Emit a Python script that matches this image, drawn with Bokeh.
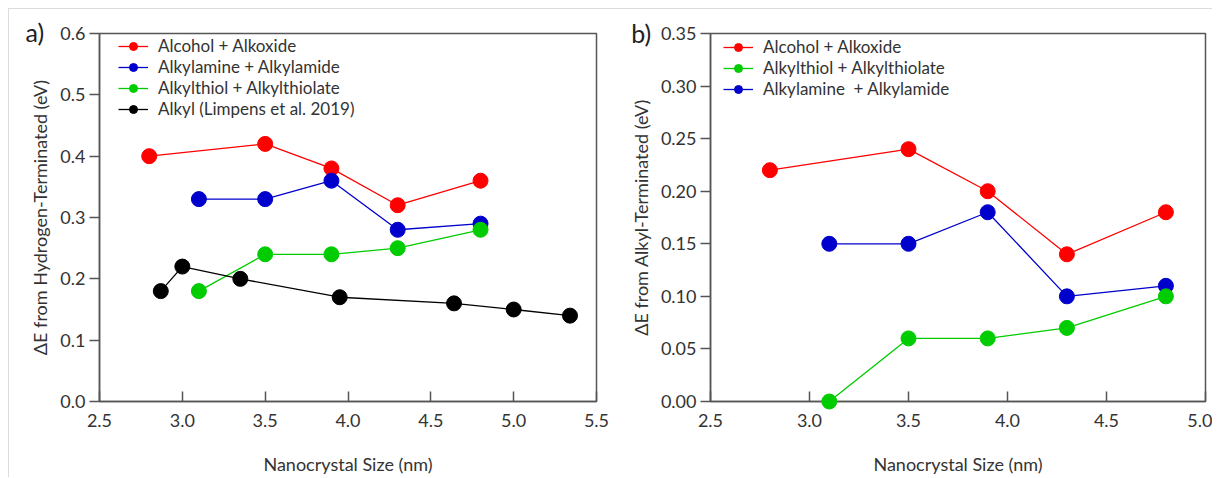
from bokeh.plotting import figure
from bokeh.layouts import row
from bokeh.models import (Range1d, FixedTicker, PrintfTickFormatter, Legend,
                          LegendItem)
from bokeh.core.properties import value
from bokeh.embed import file_html
from bokeh.resources import INLINE

# ---------------- data ----------------
# panel a
a_alcohol_x = [2.8, 3.5, 3.9, 4.3, 4.8]
a_alcohol_y = [0.40, 0.42, 0.38, 0.32, 0.36]
a_amine_x = [3.1, 3.5, 3.9, 4.3, 4.8]
a_amine_y = [0.33, 0.33, 0.36, 0.28, 0.29]
a_thiol_x = [3.1, 3.5, 3.9, 4.3, 4.8]
a_thiol_y = [0.18, 0.24, 0.24, 0.25, 0.28]
a_alkyl_x = [2.87, 3.0, 3.35, 3.95, 4.64, 5.0, 5.34]
a_alkyl_y = [0.18, 0.22, 0.20, 0.17, 0.16, 0.15, 0.14]

# panel b
b_alcohol_x = [2.8, 3.5, 3.9, 4.3, 4.8]
b_alcohol_y = [0.22, 0.24, 0.20, 0.14, 0.18]
b_thiol_x = [3.1, 3.5, 3.9, 4.3, 4.8]
b_thiol_y = [0.00, 0.06, 0.06, 0.07, 0.10]
b_amine_x = [3.1, 3.5, 3.9, 4.3, 4.8]
b_amine_y = [0.15, 0.15, 0.18, 0.10, 0.11]

a_xticks = [2.5, 3.0, 3.5, 4.0, 4.5, 5.0, 5.5]
a_yticks = [0.0, 0.1, 0.2, 0.3, 0.4, 0.5, 0.6]
b_xticks = [2.5, 3.0, 3.5, 4.0, 4.5, 5.0]
b_yticks = [0.0, 0.05, 0.10, 0.15, 0.20, 0.25, 0.30, 0.35]

panel_labels = ["a)", "b)"]

RED = "#ff0000"
BLUE = "#0000cc"
GREEN = "#00cc00"
BLACK = "#000000"

FONT = "Lato"
AXC = "#555555"
TXT = "#333333"

FIG_H = 468
TOP = 24
FRAME_H = 372


def make_fig(width, xr, yr, xticks, yticks, yfmt, ylabel, left_border, right_border):
    p = figure(width=width, height=FIG_H, output_backend="svg", toolbar_location=None,
               x_range=Range1d(*xr), y_range=Range1d(*yr),
               min_border_left=left_border, min_border_right=right_border,
               min_border_top=TOP, min_border_bottom=FIG_H - TOP - FRAME_H)
    p.background_fill_color = "white"
    p.border_fill_color = "white"
    p.outline_line_color = AXC
    p.outline_line_width = 1.5
    p.grid.visible = False
    p.xaxis.ticker = FixedTicker(ticks=xticks)
    p.yaxis.ticker = FixedTicker(ticks=yticks)
    p.xaxis.formatter = PrintfTickFormatter(format="%.1f")
    p.yaxis.formatter = PrintfTickFormatter(format=yfmt)
    for ax in (p.xaxis, p.yaxis):
        ax.axis_line_color = AXC
        ax.axis_line_width = 1.5
        ax.major_tick_line_color = AXC
        ax.major_tick_line_width = 1.5
        ax.minor_tick_line_color = None
        ax.major_label_text_font = FONT
        ax.major_label_text_font_size = "18px"
        ax.major_label_text_color = TXT
        ax.axis_label_text_font = FONT
        ax.axis_label_text_font_size = "18px"
        ax.axis_label_text_font_style = "normal"
        ax.axis_label_text_color = TXT
    p.xaxis.major_tick_in = 10
    p.xaxis.major_tick_out = 0
    p.yaxis.major_tick_in = 0
    p.yaxis.major_tick_out = 10
    p.xaxis.major_label_standoff = 12
    p.yaxis.major_label_standoff = 4
    p.xaxis.axis_label = "Nanocrystal Size (nm)"
    p.xaxis.axis_label_standoff = 23
    p.yaxis.axis_label = ylabel
    p.yaxis.axis_label_standoff = 6
    return p


def add_series(p, xs, ys, color, level="glyph"):
    l = p.line(xs, ys, line_color=color, line_width=1.3)
    c = p.scatter(xs, ys, size=15, fill_color=color, line_color=color, level=level)
    return [l, c]


def add_legend(p, items, x_off):
    leg = Legend(items=[LegendItem(label=n, renderers=r) for n, r in items])
    leg.border_line_color = None
    leg.background_fill_alpha = 0
    leg.label_text_font = FONT
    leg.label_text_font_size = "17px"
    leg.label_text_color = TXT
    leg.glyph_width = 30
    leg.glyph_height = 20
    leg.label_height = 20
    leg.spacing = 0
    leg.padding = 0
    leg.margin = 0
    leg.label_standoff = 10
    leg.location = (x_off, FRAME_H - 10 - 20 * len(items))
    p.add_layout(leg)
    return leg


def add_panel_label(p, x, y, text):
    p.text(x=[x], y=[y], text=[text], level="overlay",
           text_font=value(FONT), text_font_size="25px", text_color="#222222",
           text_align="center", text_baseline="middle")


# ---------------- panel a ----------------
pa = make_fig(601, (2.5, 5.5), (0.0, 0.6), a_xticks, a_yticks, "%.1f",
              "\u0394E from Hydrogen-Terminated (eV)", 90, 14)
ra = add_series(pa, a_alcohol_x, a_alcohol_y, RED)
rb = add_series(pa, a_amine_x, a_amine_y, BLUE)
rc = add_series(pa, a_thiol_x, a_thiol_y, GREEN)
rd = add_series(pa, a_alkyl_x, a_alkyl_y, BLACK)
add_legend(pa, [("Alcohol + Alkoxide", ra),
                ("Alkylamine + Alkylamide", rb),
                ("Alkylthiol + Alkylthiolate", rc),
                ("Alkyl (Limpens et al. 2019)", rd)], 19)
add_panel_label(pa, 2.11, 0.603, panel_labels[0])

# ---------------- panel b ----------------
pb = make_fig(602, (2.5, 5.0), (0.0, 0.35), b_xticks, b_yticks, "%.2f",
              "\u0394E from Alkyl-Terminated (eV)", 100, 7)
sa = add_series(pb, b_alcohol_x, b_alcohol_y, RED)
sc = add_series(pb, b_thiol_x, b_thiol_y, GREEN, level="overlay")
sb = add_series(pb, b_amine_x, b_amine_y, BLUE)
add_legend(pb, [("Alcohol + Alkoxide", sa),
                ("Alkylthiol + Alkylthiolate", sc),
                ("Alkylamine  + Alkylamide", sb)], 13)
add_panel_label(pb, 2.15, 0.3505, panel_labels[1])

layout = row(pa, pb, styles={"border-top": "1px solid #dcdcdc",
                             "border-left": "1px solid #dcdcdc",
                             "margin-top": "8px", "margin-left": "8px"})

open("out.html", "w").write(file_html(layout, INLINE))
